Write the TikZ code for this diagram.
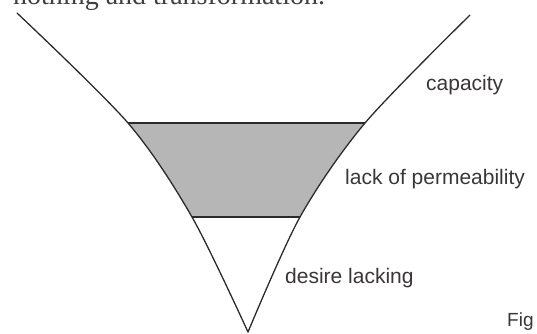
\documentclass[tikz,border=0pt]{standalone}
\usepackage{fontspec}
\setmainfont{Liberation Sans}
\newfontfamily\serifbook{Liberation Serif}
\definecolor{ink}{HTML}{2E2A2C}
\definecolor{txt}{HTML}{3A3638}
\definecolor{stipple}{HTML}{B6B6B6}
\begin{document}
\begin{tikzpicture}[x=1pt,y=-1pt,
  funnel/.style={draw=ink,line width=1.3pt,line cap=round,line join=round},
  band/.style={draw=ink,line width=1.4pt},
  lbl/.style={anchor=base west,inner sep=0pt,text=txt,font=\fontsize{21}{24}\selectfont},
  figlbl/.style={anchor=base west,inner sep=0pt,text=txt,font=\fontsize{19}{22}\selectfont},
  booktext/.style={anchor=base west,inner sep=0pt,text=black!75,font=\serifbook\fontsize{28}{32}\selectfont}]
\useasboundingbox (0,0) rectangle (537,333);
\clip (0,0) rectangle (537,333);
% key points
\coordinate (lt) at (17,13);
\coordinate (tl) at (128,123);
\coordinate (bl) at (192,217);
\coordinate (apex) at (248,332);
\coordinate (br) at (300,217);
\coordinate (tr) at (365,123);
\coordinate (rt) at (470,15);
% shaded band
\begin{scope}
  \clip (0,123) rectangle (537,217);
  \fill[stipple] plot[smooth] coordinates {(lt) (tl) (bl) (apex)}
     -- plot[smooth] coordinates {(apex) (br) (tr) (rt)} -- cycle;
\end{scope}
\draw[band] (tl) -- (tr);
\draw[band] (bl) -- (br);
% funnel sides
\draw[funnel] plot[smooth] coordinates {(lt) (tl) (bl) (apex)};
\draw[funnel] plot[smooth] coordinates {(apex) (br) (tr) (rt)};
% labels
\node[lbl] (cap) at (426,90.7) {capacity};
\node[lbl] (perm) at (345,184) {lack of permeability};
\node[lbl] (des) at (285,283) {desire lacking};
\node[figlbl] (fig) at (507,326) {Fig};
\node[booktext] (book) at (13,4) {nothing and transformation.};
\end{tikzpicture}
\end{document}
